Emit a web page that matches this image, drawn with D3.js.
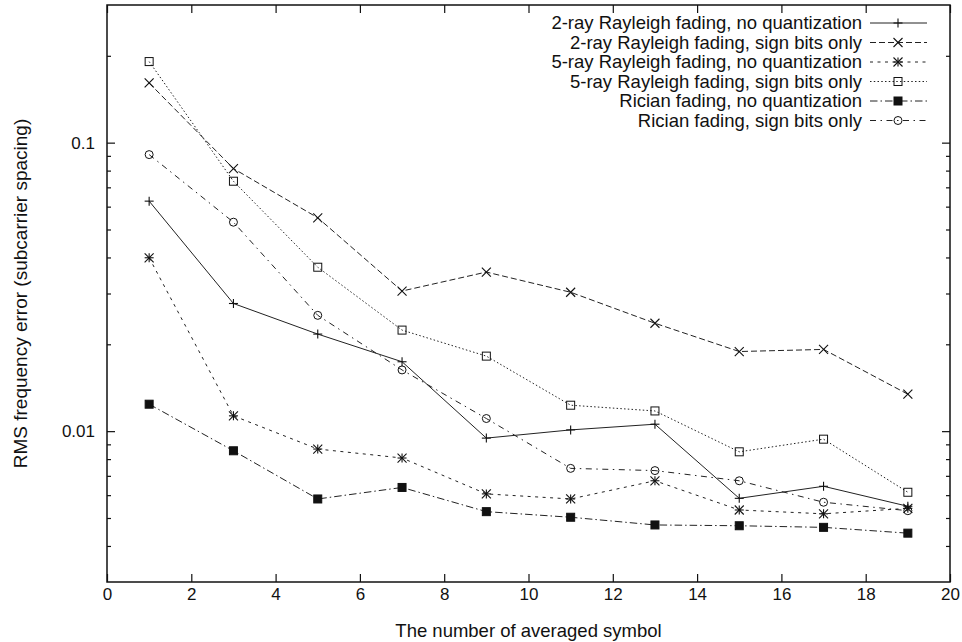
<!DOCTYPE html>
<html>
<head>
<meta charset="utf-8">
<script src="https://cdn.jsdelivr.net/npm/d3@7"></script>
<style>
  body { margin: 0; background: #fff; }
  svg text { font-family: "Liberation Sans", Arial, sans-serif; fill: #111; }
</style>
</head>
<body>
<div id="chart"></div>
<script>
// number of averaged symbols
const symbols = [1, 3, 5, 7, 9, 11, 13, 15, 17, 19]

// RMS frequency error
const ray2NoQuant   = [0.0627, 0.0277, 0.0217, 0.0174, 0.00946, 0.0101, 0.01057, 0.00585, 0.00644, 0.00549]
const ray2Sign      = [0.161, 0.0813, 0.0549, 0.0306, 0.0356, 0.0303, 0.02366, 0.01888, 0.0192, 0.01343]
const ray5NoQuant   = [0.0399, 0.0113, 0.00867, 0.00807, 0.00606, 0.00582, 0.00673, 0.00533, 0.00517, 0.0054]
const ray5Sign      = [0.191, 0.0735, 0.037, 0.0224, 0.0182, 0.0123, 0.01175, 0.00848, 0.00938, 0.00614]
const ricianNoQuant = [0.0124, 0.00855, 0.00582, 0.00638, 0.00526, 0.00503, 0.00473, 0.0047, 0.00464, 0.00443]
const ricianSign    = [0.0909, 0.053, 0.0252, 0.0163, 0.01106, 0.00743, 0.0073, 0.00673, 0.00567, 0.0053]

const seriesNames = [
  "2-ray Rayleigh fading, no quantization",
  "2-ray Rayleigh fading, sign bits only",
  "5-ray Rayleigh fading, no quantization",
  "5-ray Rayleigh fading, sign bits only",
  "Rician fading, no quantization",
  "Rician fading, sign bits only"
]
const seriesValues = [ray2NoQuant, ray2Sign, ray5NoQuant, ray5Sign, ricianNoQuant, ricianSign]

const xTicks = [0, 2, 4, 6, 8, 10, 12, 14, 16, 18, 20]
const yMajor = [0.01, 0.1]
const yMinor = [0.004, 0.005, 0.006, 0.007, 0.008, 0.009,
                0.02, 0.03, 0.04, 0.05, 0.06, 0.07, 0.08, 0.09, 0.2]

// gnuplot-ish line types and point types
const dashes  = [null, "6,3", "3,4.5", "1.5,2.25", "7.5,3,1.5,3", "6,4.5,1.5,4.5"]
const markers = ["plus", "cross", "star", "box", "boxfill", "circle"]

const W = 962, H = 642
const margin = {top: 5, right: 12, bottom: 60, left: 107}
const width = W - margin.left - margin.right,
      height = H - margin.top - margin.bottom

const svg = d3.select("#chart").append("svg")
    .attr("width", W)
    .attr("height", H)
  .append("g")
    .attr("transform", `translate(${margin.left},${margin.top})`)

const x = d3.scaleLinear().domain([0, 20]).range([0, width])
const y = d3.scaleLog().domain([0.003, 0.3]).range([height, 0])

// axes, ticks pointing inward, mirrored on top and right
function styleAxis(g) {
  g.select(".domain").remove()
  g.selectAll("line").attr("stroke", "#111").attr("stroke-width", 1.2)
  g.selectAll("text").attr("font-size", 17).attr("font-family", '"Liberation Sans", Arial, sans-serif').attr("fill", "#111")
}

svg.append("g")
    .attr("transform", `translate(0,${height})`)
    .call(d3.axisBottom(x).tickValues(xTicks).tickSize(-8).tickPadding(6).tickFormat(d3.format("d")))
    .call(styleAxis)
svg.append("g")
    .call(d3.axisTop(x).tickValues(xTicks).tickSize(-8).tickFormat(""))
    .call(styleAxis)

svg.append("g")
    .call(d3.axisLeft(y).tickValues(yMajor).tickSize(-8).tickPadding(12).tickFormat(d => d3.format("")(d)))
    .call(styleAxis)
svg.append("g")
    .call(d3.axisLeft(y).tickValues(yMinor).tickSize(-4).tickFormat(""))
    .call(styleAxis)
svg.append("g")
    .attr("transform", `translate(${width},0)`)
    .call(d3.axisRight(y).tickValues(yMajor).tickSize(-8).tickFormat(""))
    .call(styleAxis)
svg.append("g")
    .attr("transform", `translate(${width},0)`)
    .call(d3.axisRight(y).tickValues(yMinor).tickSize(-4).tickFormat(""))
    .call(styleAxis)

// frame
svg.append("rect")
    .attr("width", width)
    .attr("height", height)
    .attr("fill", "none")
    .attr("stroke", "#111")
    .attr("stroke-width", 1.5)

// axis titles
svg.append("text")
    .attr("x", width / 2)
    .attr("y", height + 55)
    .attr("text-anchor", "middle")
    .attr("font-size", 18.5)
    .text("The number of averaged symbol")

svg.append("text")
    .attr("transform", `translate(${-margin.left + 27},${height / 2}) rotate(-90)`)
    .attr("text-anchor", "middle")
    .attr("font-size", 19)
    .text("RMS frequency error (subcarrier spacing)")

// marker drawing
function drawMarker(g, type, cx, cy) {
  const s = 4.5
  const line = (x1, y1, x2, y2) => g.append("line")
      .attr("x1", cx + x1).attr("y1", cy + y1).attr("x2", cx + x2).attr("y2", cy + y2)
      .attr("stroke", "#111").attr("stroke-width", 1.1)
  if (type === "plus" || type === "star") {
    line(-s, 0, s, 0)
    line(0, -s, 0, s)
  }
  if (type === "cross" || type === "star") {
    line(-s, -s, s, s)
    line(-s, s, s, -s)
  }
  if (type === "box" || type === "boxfill") {
    g.append("rect")
      .attr("x", cx - 4).attr("y", cy - 4).attr("width", 8).attr("height", 8)
      .attr("fill", type === "boxfill" ? "#111" : "none")
      .attr("stroke", "#111").attr("stroke-width", 1)
  }
  if (type === "circle") {
    g.append("circle")
      .attr("cx", cx).attr("cy", cy).attr("r", 4)
      .attr("fill", "none").attr("stroke", "#111").attr("stroke-width", 1)
  }
}

const lineGen = d3.line()
    .x(d => x(d[0]))
    .y(d => y(d[1]))

seriesValues.forEach((vals, i) => {
  const pts = symbols.map((s, j) => [s, vals[j]])
  svg.append("path")
      .datum(pts)
      .attr("d", lineGen)
      .attr("fill", "none")
      .attr("stroke", "#222")
      .attr("stroke-width", 1)
      .attr("stroke-dasharray", dashes[i])
  const g = svg.append("g")
  pts.forEach(p => drawMarker(g, markers[i], x(p[0]), y(p[1])))
})

// legend (key) in the top right corner
const key = svg.append("g").attr("transform", "translate(755,0)")
seriesNames.forEach((name, i) => {
  const ry = 18 + i * 19.5
  key.append("text")
      .attr("x", 0)
      .attr("y", ry)
      .attr("dy", "0.35em")
      .attr("text-anchor", "end")
      .attr("font-size", 18.5)
      .text(name)
  key.append("line")
      .attr("x1", 8).attr("x2", 65)
      .attr("y1", ry).attr("y2", ry)
      .attr("stroke", "#222")
      .attr("stroke-width", 1)
      .attr("stroke-dasharray", dashes[i])
  drawMarker(key, markers[i], 36, ry)
})
</script>
</body>
</html>
